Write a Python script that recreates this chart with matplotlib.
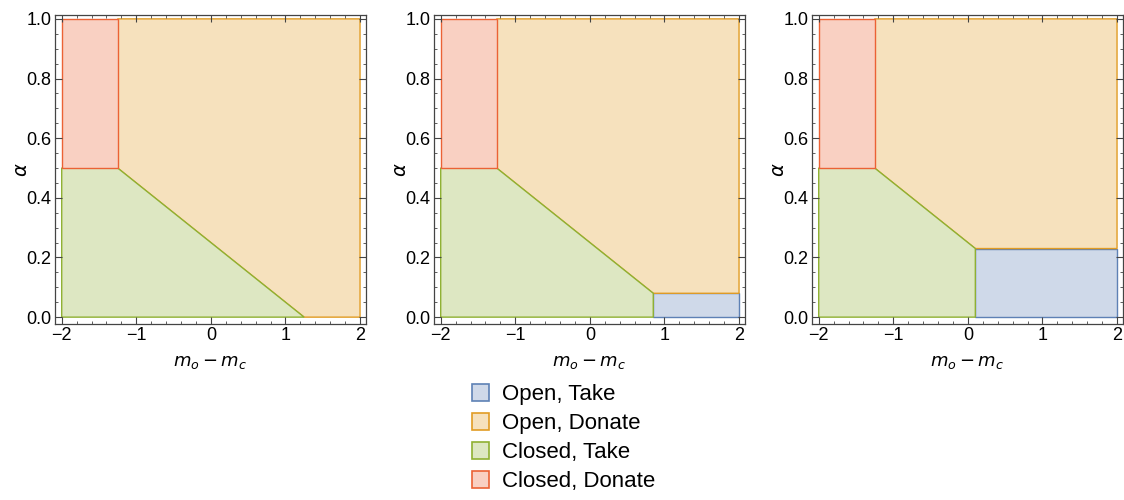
"""Regime map: open/closed x take/donate over (m_o - m_c, alpha)."""

import matplotlib
import matplotlib.pyplot as plt
from matplotlib.patches import Patch, Polygon
from matplotlib.ticker import FormatStrFormatter, MultipleLocator

matplotlib.use("Agg")

plt.rcParams["font.family"] = ["Liberation Sans", "DejaVu Sans"]
plt.rcParams["mathtext.fontset"] = "dejavusans"

# data
x_range = [-2.0, 2.0]
alpha_range = [0.0, 1.0]
donate_x = -1.25          # right edge of the closed/donate block
donate_alpha = 0.5        # lower edge of the closed/donate block
kink_x = [1.25, 0.85, 0.1]      # where the diagonal stops, one per panel
kink_alpha = [0.0, 0.08, 0.23]  # alpha there (top of open/take block)

labels = ["Open, Take", "Open, Donate", "Closed, Take", "Closed, Donate"]
edge_colors = ["#5E81B5", "#E19C24", "#8FB032", "#EB6235"]
fill_colors = ["#CFD9E9", "#F6E1BD", "#DDE7C2", "#F9D0C2"]


def _regions(kx, ka):
    x0, x1 = x_range
    a0, a1 = alpha_range
    open_take = [(kx, a0), (x1, a0), (x1, ka), (kx, ka)]
    open_donate = [(donate_x, donate_alpha), (kx, ka), (x1, ka), (x1, a1), (donate_x, a1)]
    closed_take = [(x0, a0), (kx, a0), (kx, ka), (donate_x, donate_alpha), (x0, donate_alpha)]
    closed_donate = [(x0, donate_alpha), (donate_x, donate_alpha), (donate_x, a1), (x0, a1)]
    # open/take has no area when the diagonal reaches alpha = 0
    if ka <= a0:
        open_take = None
    return [open_take, open_donate, closed_take, closed_donate]


fig = plt.figure(figsize=(11.24, 5), dpi=100)
lefts = [55 / 1124, 434 / 1124, 812 / 1124]
w, h = 311 / 1124, 309 / 500
bottom = 176 / 500

for left, kx, ka in zip(lefts, kink_x, kink_alpha):
    ax = fig.add_axes([left, bottom, w, h])
    for verts, fc, ec in zip(_regions(kx, ka), fill_colors, edge_colors):
        if verts is None:
            continue
        ax.add_patch(Polygon(verts, closed=True, facecolor=fc, edgecolor=ec, linewidth=1.0))
    ax.set_xlim(-2.09, 2.08)
    ax.set_ylim(-0.023, 1.013)
    ax.xaxis.set_major_locator(MultipleLocator(1))
    ax.xaxis.set_minor_locator(MultipleLocator(0.2))
    ax.yaxis.set_major_locator(MultipleLocator(0.2))
    ax.yaxis.set_minor_locator(MultipleLocator(0.05))
    ax.yaxis.set_major_formatter(FormatStrFormatter("%.1f"))
    ax.tick_params(which="both", direction="in", top=True, right=True, colors="#444444",
                   labelcolor="black", labelsize=13)
    ax.tick_params(which="major", length=5, width=0.8, pad=2.5)
    ax.tick_params(which="minor", length=2.5, width=0.6)
    for s in ax.spines.values():
        s.set_color("#444444")
        s.set_linewidth(0.9)
    ax.set_xlabel(r"$m_o - m_c$", fontsize=13, labelpad=7)
    ax.set_ylabel(r"$\alpha$", fontsize=14, labelpad=-3)

handles = [Patch(facecolor=fc, edgecolor=ec, linewidth=1.2) for fc, ec in zip(fill_colors, edge_colors)]
fig.legend(handles, labels, loc="upper left", bbox_to_anchor=(472 / 1124, 1 - 384 / 500),
           frameon=False, fontsize=16, handlelength=0.78, handleheight=0.78,
           handletextpad=0.55, labelspacing=0.36, borderpad=0, borderaxespad=0)

fig.savefig("out.png", dpi=100)
